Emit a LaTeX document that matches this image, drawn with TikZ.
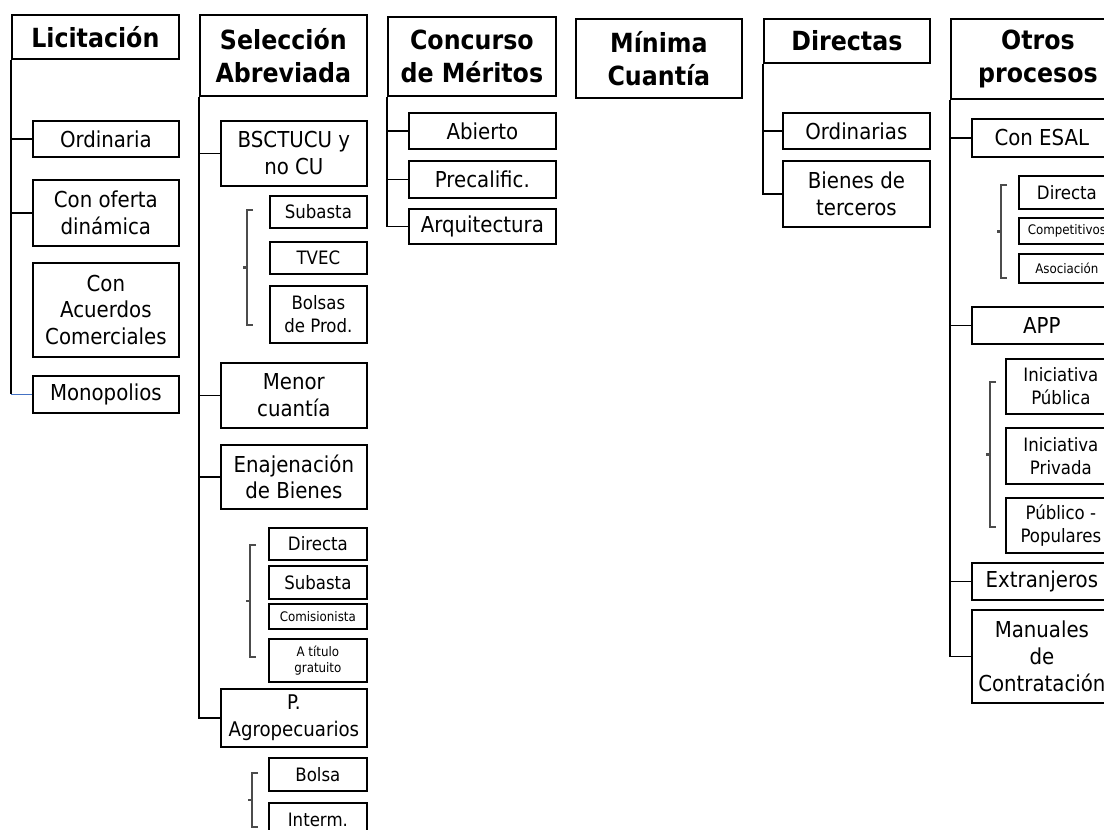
\documentclass[tikz,border=0pt]{standalone}
\usepackage{fontspec}
\setmainfont{DejaVu Sans Condensed}
\usetikzlibrary{positioning, calc}
\definecolor{linkblue}{RGB}{68,114,196}
\newcommand{\Brack}[3]{%
  \draw[brack] ({#1+6},#2) -- (#1,#2) -- (#1,#3) -- ({#1+6},#3);
  \draw[brack, line width=1.4pt] (#1,{(#2+#3)/2}) -- ++(-4,0);
}
\tikzset{
    cbox/.style={draw, line width=1pt, anchor=north west, align=center, inner sep=0pt,
      font=\fontsize{12.5}{15.3}\selectfont},
    hbox/.style={cbox, font=\fontsize{15}{18.6}\selectfont\bfseries},
    sbox/.style={cbox, font=\fontsize{10.5}{13}\selectfont},
    tbox/.style={cbox, font=\fontsize{7.5}{9}\selectfont},
    sz/.style 2 args={minimum width=#1*0.02cm, minimum height=#2*0.02cm},
    link/.style={line width=0.9pt},
    brack/.style={line width=0.9pt, black!70},
}

\begin{document}
\begin{tikzpicture}[x=0.02cm, y=-0.02cm]
    \useasboundingbox (0,0) rectangle (1104,829);
    \clip (0,0) rectangle (1104,829);

    \node[hbox, sz={167}{44}] (l0) at (11,14) {Licitación};
    \node[cbox, sz={146}{36}] (l1) at (32,120) {Ordinaria};
    \node[cbox, sz={146}{66}] (l2) at (32,179) {Con oferta\\dinámica};
    \node[cbox, sz={146}{94}] (l3) at (32,262) {Con\\Acuerdos\\Comerciales};
    \node[cbox, sz={146}{37}] (l4) at (32,375) {Monopolios};
    \coordinate (l4a) at (l0.south west |- l4.west);

    \draw[link] (l0.south west) |- (l1.west);
    \draw[link] (l0.south west) |- (l2.west);
    \draw[link] (l0.south west) -- (l4a);
    \draw[link, linkblue] (l4a) -- (l4.west);

    \node[hbox, sz={167}{81}] (s0) at (199,14) {Selección\\Abreviada};
    \node[cbox, sz={146}{65}] (s1) at (220,120) {BSCTUCU y\\no CU};
    \node[sbox, sz={97}{32}] (s11) at (269,195) {Subasta};
    \node[sbox, sz={97}{32}] (s12) at (269,241) {TVEC};
    \node[sbox, sz={97}{57}] (s13) at (269,285) {Bolsas\\de Prod.};
    \Brack{247}{210}{325}
    \node[cbox, sz={146}{65}] (s2) at (220,362) {Menor\\cuantía};
    \node[cbox, sz={146}{64}] (s3) at (220,444) {Enajenación\\de Bienes};
    \node[sbox, sz={98}{32}] (s31) at (268,527) {Directa};
    \node[sbox, sz={98}{33}] (s32) at (268,565) {Subasta};
    \node[tbox, sz={98}{25}] (s33) at (268,603) {Comisionista};
    \node[tbox, sz={98}{43}] (s34) at (268,638) {A título\\gratuito};
    \Brack{250}{545}{657}
    \node[cbox, sz={146}{58}, font=\fontsize{11.5}{15.3}\selectfont] (s4) at (220,688) {P.\\Agropecuarios};
    \node[sbox, sz={98}{33}] (s41) at (268,757) {Bolsa};
    \node[sbox, sz={98}{34}] (s42) at (268,802) {Interm.};
    \Brack{252}{773}{827}

    \draw[link] (s0.south west) |- (s1.west);
    \draw[link] (s0.south west) |- (s2.west);
    \draw[link] (s0.south west) |- (s3.west);
    \draw[link] (s0.south west) |- (s4.west);

    \node[hbox, sz={168}{79}] (c0) at (387,16) {Concurso\\de Méritos};
    \node[cbox, sz={147}{36}] (c1) at (408,112) {Abierto};
    \node[cbox, sz={147}{37}] (c2) at (408,160) {Precalific.};
    \node[cbox, sz={147}{35}] (c3) at (408,208) {Arquitectura};

    \draw[link] (c0.south west) |- (c1.west);
    \draw[link] (c0.south west) |- (c2.west);
    \draw[link] (c0.south west) |- (c3.west);

    \node[hbox, sz={166}{79}] (m0) at (575,18) {Mínima\\Cuantía};

    \node[hbox, sz={166}{44}] (d0) at (763,18) {Directas};
    \node[cbox, sz={147}{36}] (d1) at (782,112) {Ordinarias};
    \node[cbox, sz={147}{66}] (d2) at (782,160) {Bienes de\\terceros};

    \draw[link] (d0.south west) |- (d1.west);
    \draw[link] (d0.south west) |- (d2.west);

    \node[hbox, sz={174}{80}] (o0) at (950,18) {Otros\\procesos};
    \node[cbox, sz={140}{38}] (o1) at (971,118) {Con ESAL};
    \node[sbox, sz={96}{33}] (o11) at (1018,175) {Directa};
    \node[tbox, sz={96}{26}] (o12) at (1018,217) {Competitivos};
    \node[tbox, sz={96}{29}] (o13) at (1018,253) {Asociación};
    \Brack{1001}{185}{278}
    \node[cbox, sz={140}{37}] (o2) at (971,306) {APP};
    \node[sbox, sz={110}{55}] (o21) at (1005,358) {Iniciativa\\Pública};
    \node[sbox, sz={110}{56}] (o22) at (1005,427) {Iniciativa\\Privada};
    \node[sbox, sz={110}{55}] (o23) at (1005,497) {Público -\\Populares};
    \Brack{990}{382}{527}
    \node[cbox, sz={140}{37}] (o3) at (971,562) {Extranjeros};
    \node[cbox, sz={140}{93}] (o4) at (971,609) {Manuales\\de\\Contratación};

    \draw[link] (o0.south west) |- (o1.west);
    \draw[link] (o0.south west) |- (o2.west);
    \draw[link] (o0.south west) |- (o3.west);
    \draw[link] (o0.south west) |- (o4.west);
\end{tikzpicture}
\end{document}
